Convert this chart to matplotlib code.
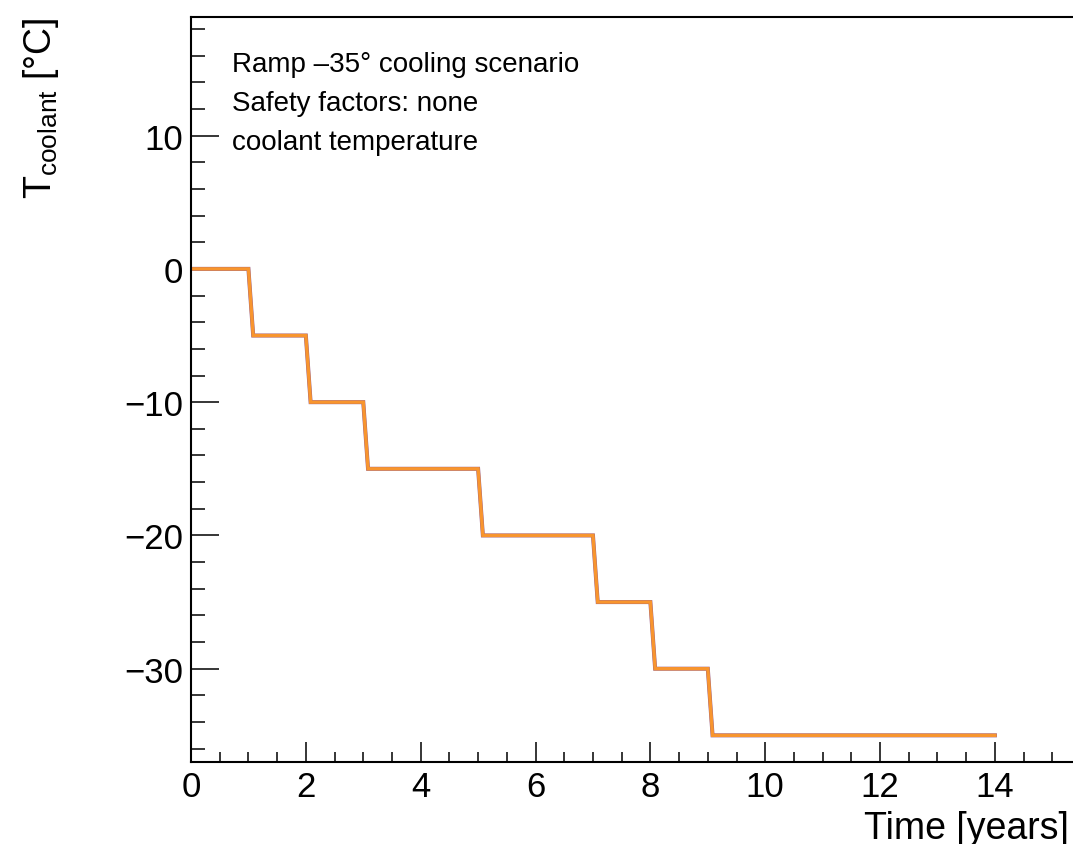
import matplotlib
matplotlib.use("Agg")
import matplotlib.pyplot as plt
from matplotlib.ticker import MultipleLocator

plt.rcParams['font.family'] = ['Liberation Sans', 'DejaVu Sans']
plt.rcParams['mathtext.fontset'] = 'custom'
plt.rcParams['mathtext.rm'] = 'Liberation Sans'
plt.rcParams['mathtext.it'] = 'Liberation Sans'

# Data: coolant temperature ramp (years, degC)
time_years = [0, 1.0, 1.083, 2.0, 2.083, 3.0, 3.083, 5.0, 5.083, 7.0, 7.083,
              8.0, 8.083, 9.0, 9.083, 14.0]
t_coolant = [0, 0, -5, -5, -10, -10, -15, -15, -20, -20, -25,
             -25, -30, -30, -35, -35]

annotations = ["Ramp \u201335\u00b0 cooling scenario",
               "Safety factors: none",
               "coolant temperature"]

W, H = 1073, 845
fig = plt.figure(figsize=(W / 100, H / 100), dpi=100)
ax = fig.add_axes([191 / W, 1 - 763 / H, 1 - 191 / W, (763 - 18) / H])

ax.plot(time_years, t_coolant, color='#9a5f86', lw=2.9, solid_joinstyle='miter')
ax.plot(time_years, t_coolant, color='#f8952e', lw=2.4, solid_joinstyle='miter')

ax.set_xlim(0, 15.36)
ax.set_ylim(-37.0, 18.9)

ax.xaxis.set_major_locator(MultipleLocator(2))
ax.xaxis.set_minor_locator(MultipleLocator(0.5))
ax.yaxis.set_major_locator(MultipleLocator(10))
ax.yaxis.set_minor_locator(MultipleLocator(2))

for s in ['left', 'bottom', 'top']:
    ax.spines[s].set_linewidth(1.5)
ax.spines['right'].set_visible(False)

ax.tick_params(axis='x', which='major', direction='in', length=14.5, width=1.1,
               labelsize=25, pad=6.0, top=False)
ax.tick_params(axis='x', which='minor', direction='in', length=7.2, width=1.1, top=False)
ax.tick_params(axis='y', which='major', direction='in', length=20.5, width=1.1,
               labelsize=25, pad=5.5, right=False)
ax.tick_params(axis='y', which='minor', direction='in', length=10.3, width=1.1, right=False)

baselines = [72, 111, 150]
for txt, yb in zip(annotations, baselines):
    fig.text(232 / W, 1 - yb / H, txt, fontsize=20, ha='left', va='baseline')

fig.text(1069 / W, 1 - 839 / H, "Time [years]", fontsize=27, ha='right', va='baseline')
fig.text(21 / W, 1 - 17 / H, "T$_{\\rm coolant}$ [\u00b0C]", fontsize=27,
         rotation=90, ha='left', va='top')

fig.savefig("out.png", dpi=100)
